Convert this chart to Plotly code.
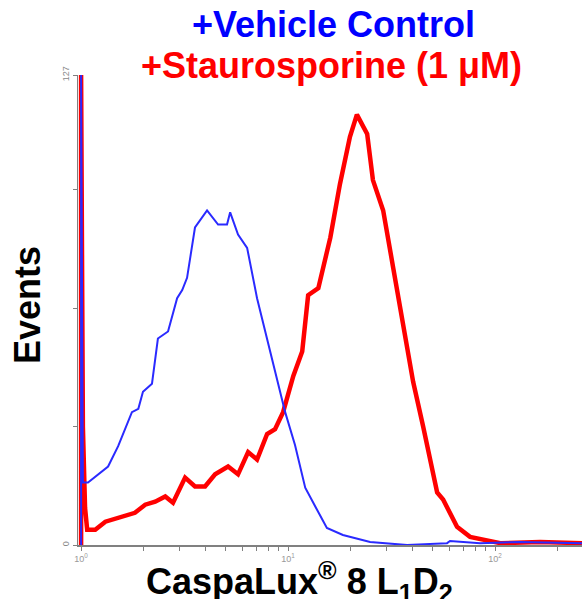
import plotly.graph_objects as go

# Vehicle control (blue) histogram: fluorescence (log axis) vs events
vehicle_x = [1.0, 1.0, 1.02, 1.08, 1.35, 1.51, 1.76, 1.89, 1.99, 2.20, 2.35, 2.63, 2.91, 3.08, 3.25,
             3.55, 4.06, 4.59, 5.07, 5.25, 5.73, 6.34, 7.08, 7.92, 8.85, 9.68, 10.8, 12.1, 13.8, 15.4,
             18.4, 24.9, 37.6, 58.6, 60.6, 84.7, 132, 263]
vehicle_y = [0, 127, 16.9, 16.9, 21.2, 26.7, 35.9, 36.8, 41.4, 43.6, 55.8, 57.7, 66.7, 68.9, 72.2,
             85.8, 90.4, 86.6, 86.6, 89.9, 83.9, 80.3, 66.7, 55.8, 44.9, 35.9, 27.0, 15.5, 9.5, 4.6,
             2.7, 0.8, 0.0, 0.5, 1.1, 0.5, 0.8, 0.5]

# Staurosporine (red) histogram
stauro_x = [1.0, 1.0, 1.02, 1.045, 1.07, 1.17, 1.31, 1.58, 1.82, 2.04, 2.28, 2.55, 2.78, 3.18, 3.55,
            3.97, 4.44, 5.13, 5.73, 6.41, 7.08, 7.92, 8.65, 9.46, 10.6, 11.7, 12.5, 14.0, 16.0, 17.8,
            19.9, 21.5, 24.1, 25.7, 28.8, 32.2, 35.9, 40.2, 44.9, 52.5, 56.1, 65.5, 75.7, 91.5, 106,
            165, 263]
stauro_y = [0, 127, 32, 10, 4.1, 4.1, 6.3, 7.6, 8.7, 10.9, 11.7, 13.1, 11.4, 18.2, 15.8,
            15.8, 19.1, 21.2, 19.1, 25.1, 23.1, 30.0, 31.3, 35.9, 45.7, 52.3, 67.5, 69.4, 83.1, 97.5,
            110.3, 116.3, 111.1, 98.6, 90.4, 74.9, 59.4, 44.1, 32.1, 14.2, 12.3, 4.9, 2.2, 1.4, 0.5,
            0.8, 0.5]

x_major = [1, 10, 100]
x_major_text = ["10<sup>0</sup>", "10<sup>1</sup>", "10<sup>2</sup>"]
x_minor = [2, 3, 4, 5, 6, 7, 8, 9, 20, 30, 40, 50, 60, 70, 80, 90, 200]
y_major = [0, 127]
y_major_text = ["0", "127"]
y_minor = [32, 64, 96]

FONT = "Liberation Sans, Arial, sans-serif"

fig = go.Figure()
fig.add_trace(go.Scatter(x=stauro_x, y=stauro_y, mode="lines",
                         line=dict(color="#ff0000", width=4.5), showlegend=False))
fig.add_trace(go.Scatter(x=vehicle_x, y=vehicle_y, mode="lines",
                         line=dict(color="#2a2aff", width=2), showlegend=False))

fig.update_layout(
    width=582, height=599,
    margin=dict(l=78, r=0, t=75, b=54),
    plot_bgcolor="white", paper_bgcolor="white",
    font=dict(family=FONT),
    xaxis=dict(type="log", range=[-0.015, 2.42], showgrid=False, zeroline=False,
               showline=True, linecolor="#808080", linewidth=2,
               tickvals=x_major, ticktext=x_major_text, ticks="outside", ticklen=4,
               tickcolor="#808080", tickfont=dict(size=9, color="#999999"),
               minor=dict(tickvals=x_minor, ticks="outside", ticklen=4, tickcolor="#808080")),
    yaxis=dict(range=[0, 127], showgrid=False, zeroline=False,
               showline=True, linecolor="#808080", linewidth=1,
               tickvals=y_major, ticktext=y_major_text, ticks="outside", ticklen=4,
               tickcolor="#808080", tickangle=-90, tickfont=dict(size=9, color="#888888"),
               minor=dict(tickvals=y_minor, ticks="outside", ticklen=4, tickcolor="#808080")),
    annotations=[
        dict(text="<b>+Vehicle Control</b>", xref="paper", yref="paper", x=0.506, y=1.108,
             showarrow=False, font=dict(size=36, color="#0000ff", family=FONT),
             xanchor="center", yanchor="middle"),
        dict(text="<b>+Staurosporine (1 μM)</b>", xref="paper", yref="paper", x=0.503, y=1.02,
             showarrow=False, font=dict(size=36, color="#ff0000", family=FONT),
             xanchor="center", yanchor="middle"),
        dict(text="<b>Events</b>", xref="paper", yref="paper", x=-0.099, y=0.511,
             showarrow=False, textangle=-90, font=dict(size=36, color="black", family=FONT),
             xanchor="center", yanchor="middle"),
        dict(text="<b>CaspaLux<sup>®</sup> 8 L<sub>1</sub>D<sub>2</sub></b>", xref="paper", yref="paper",
             x=0.44, y=-0.077, showarrow=False, font=dict(size=36, color="black", family=FONT),
             xanchor="center", yanchor="middle"),
    ],
)

fig.write_html("out.html", config={"displayModeBar": False},
               post_script="document.body.style.margin='0';document.body.style.overflow='hidden';")
